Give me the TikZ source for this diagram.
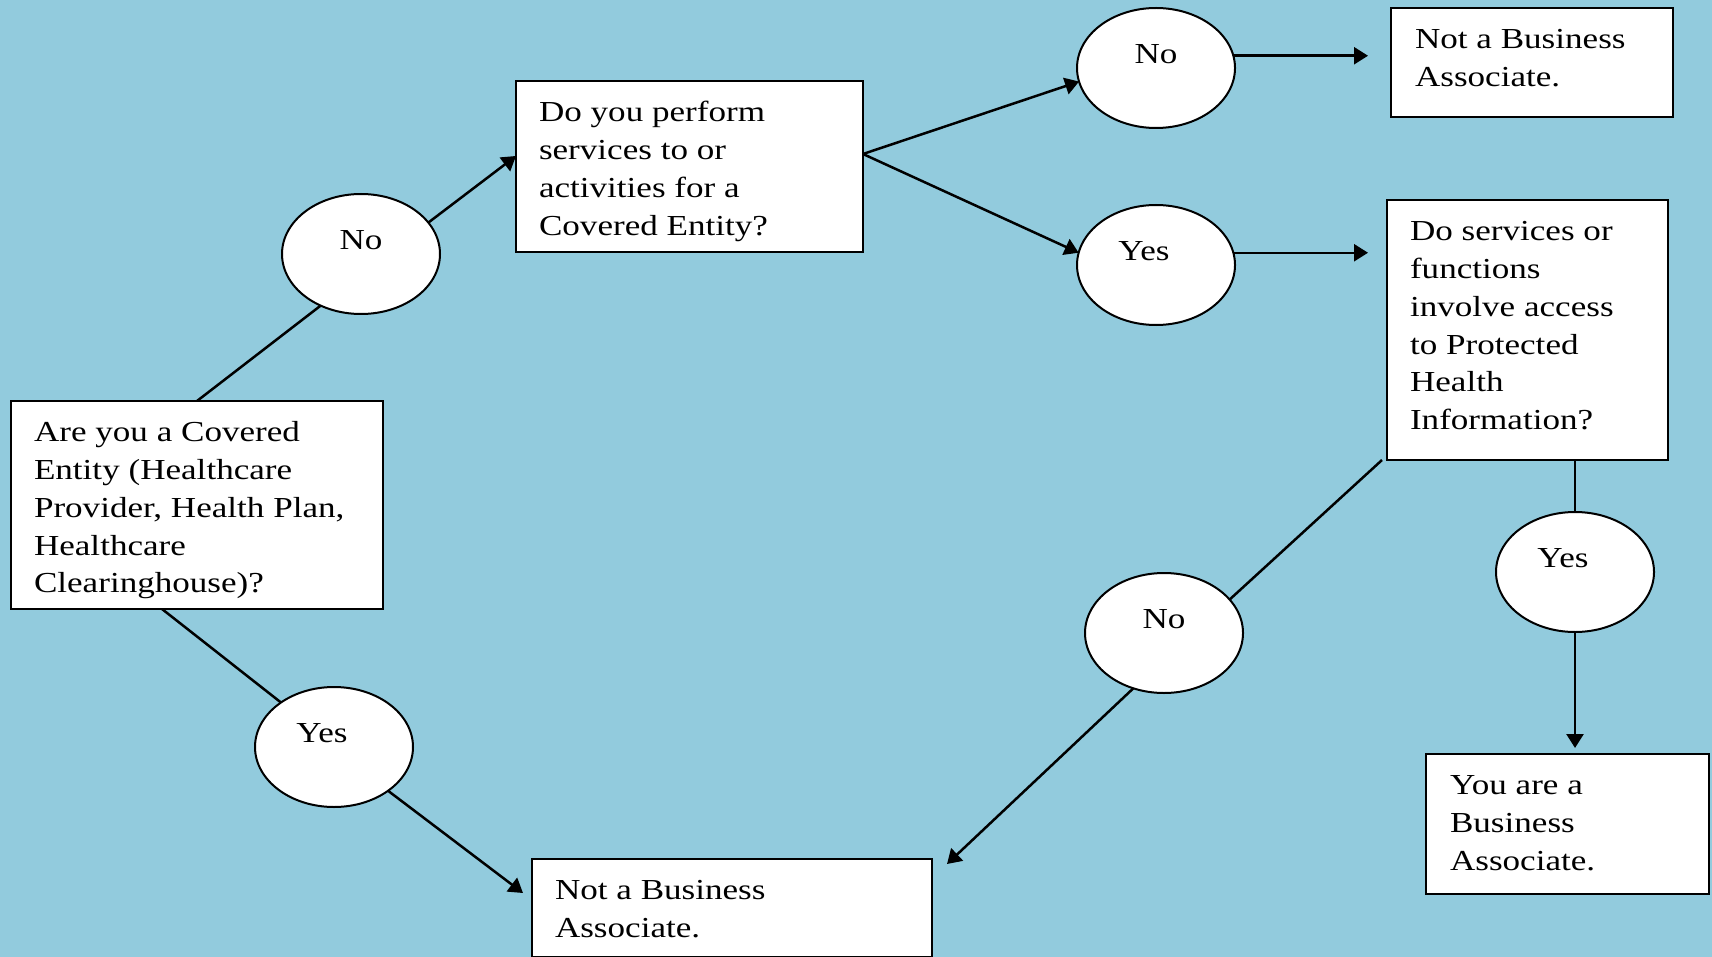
\documentclass[tikz,border=0pt]{standalone}
\usepackage{fontspec}
\setmainfont{Liberation Serif}
\usepackage{graphicx}
\usetikzlibrary{shapes.geometric,arrows.meta,calc}
\definecolor{bgblue}{HTML}{92CBDD}
\newcommand{\flowtext}[1]{\scalebox{1.21}[1]{\begin{tabular}{@{}l@{}}#1\end{tabular}}}
\newcommand{\sxt}[1]{\scalebox{1.21}[1]{#1}}
\begin{document}
\begin{tikzpicture}[x=1pt,y=-1pt,
  every node/.style={font=\fontsize{29pt}{37.7pt}\selectfont, inner sep=0pt, outer sep=0pt},
  qbox/.style={draw=black, line width=2pt, fill=white, rectangle, anchor=north west},
  ans/.style={draw=black, line width=2pt, fill=white, ellipse, minimum width=158pt, minimum height=120pt},
  qtext/.style={anchor=north west},
  atext/.style={anchor=base},
  conn/.style={line width=2.5pt, draw=black},
  arr/.style={conn, -{Triangle[length=14pt,width=17pt]}}]
\fill[bgblue] (0,0) rectangle (1712,957);
\useasboundingbox (0,0) rectangle (1712,957);

% boxes
\node[qbox, minimum width=372pt, minimum height=208pt] (A) at (11,401) {};
\node[qbox, minimum width=347pt, minimum height=171pt] (B) at (516,81) {};
\node[qbox, minimum width=282pt, minimum height=109pt] (C) at (1391,8) {};
\node[qbox, minimum width=281pt, minimum height=260pt] (D) at (1387,200) {};
\node[qbox, minimum width=283pt, minimum height=140pt] (E) at (1426,754) {};
\node[qbox, minimum width=400pt, minimum height=98pt] (F) at (532,859) {};

\node[qtext] (At) at ([shift={(23pt,-14.6pt)}]A.north west) {\flowtext{Are you a Covered\\Entity (Healthcare\\Provider, Health Plan,\\Healthcare\\Clearinghouse)?}};
\node[qtext] (Bt) at ([shift={(23pt,-14.6pt)}]B.north west) {\flowtext{Do you perform\\services to or\\activities for a\\Covered Entity?}};
\node[qtext] (Ct) at ([shift={(24pt,-14.6pt)}]C.north west) {\flowtext{Not a Business\\Associate.}};
\node[qtext] (Dt) at ([shift={(23pt,-14.6pt)}]D.north west) {\flowtext{Do services or\\functions\\involve access\\to Protected\\Health\\Information?}};
\node[qtext] (Et) at ([shift={(24pt,-14.6pt)}]E.north west) {\flowtext{You are a\\Business\\Associate.}};
\node[qtext] (Ft) at ([shift={(23pt,-14.6pt)}]F.north west) {\flowtext{Not a Business\\Associate.}};

% answer ellipses
\node[ans] (NoA) at (361,254) {};
\node[ans] (NoT) at (1156,68) {};
\node[ans] (YesT) at (1156,265) {};
\node[ans] (YesR) at (1575,572) {};
\node[ans] (NoB) at (1164,633) {};
\node[ans] (YesL) at (334,747) {};

\node[atext] (NoAt) at ([yshift=4.5pt]NoA.center) {\sxt{No}};
\node[atext] (NoTt) at ([yshift=4.5pt]NoT.center) {\sxt{No}};
\node[atext] (YesTt) at ([xshift=-12pt,yshift=4.5pt]YesT.center) {\sxt{Yes}};
\node[atext] (YesRt) at ([xshift=-12pt,yshift=4.5pt]YesR.center) {\sxt{Yes}};
\node[atext] (NoBt) at ([yshift=4.5pt]NoB.center) {\sxt{No}};
\node[atext] (YesLt) at ([xshift=-12pt,yshift=4.5pt]YesL.center) {\sxt{Yes}};

% connectors
\draw[conn] (A.north) -- (NoA.232);
\draw[arr] (NoA.25) -- ([yshift=10.5pt]B.west);
\draw[arr] ([yshift=12.5pt]B.east) -- (NoT.190);
\draw[arr] ([yshift=12.5pt]B.east) -- (YesT.171);
\draw[arr, shorten >=23pt] (NoT.9) -- (NoT.9 -| C.west);
\draw[arr, shorten >=19pt] (YesT.9) -- (YesT.9 -| D.west);
\draw[conn] (YesR.north |- D.south) -- (YesR.north);
\draw[arr, shorten >=6pt] (YesR.south) -- (YesR.south |- E.north);
\draw[conn] ([xshift=-5pt]D.south west) -- (NoB.27);
\draw[arr] (NoB.241) -- ([shift={(15pt,-5pt)}]F.north east);
\draw[conn] ([xshift=-35pt]A.south) -- (YesL.140);
\draw[arr] (YesL.321) -- ([shift={(-9pt,-34pt)}]F.north west);
\end{tikzpicture}
\end{document}
